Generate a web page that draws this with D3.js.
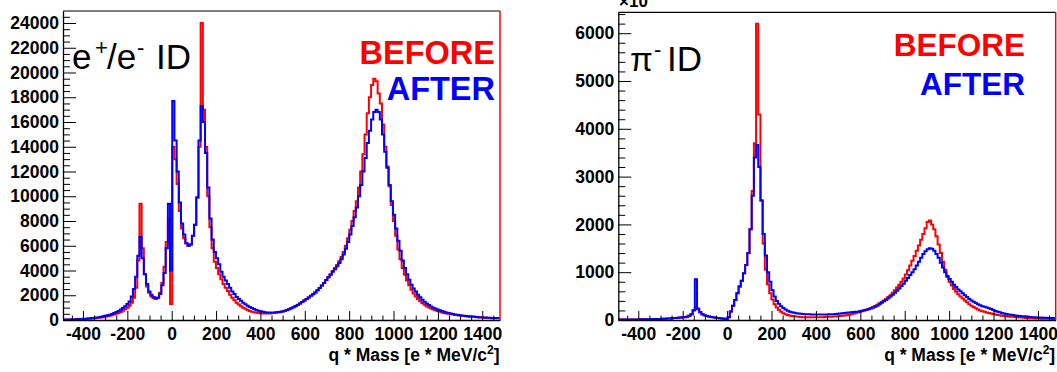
<!DOCTYPE html>
<html><head><meta charset="utf-8">
<script src="https://cdn.jsdelivr.net/npm/d3@7"></script>
<style>body{margin:0;background:#fff}svg{display:block}text{font-family:"Liberation Sans",Arial,sans-serif}</style>
</head><body><svg id="c" width="1057" height="372"></svg>
<script>
// ---------- data ----------
const binLow = -490, binWidth = 9.85;          // histogram binning (q*Mass), 200 bins
const xDomain = [-490, 1480];
const xTickValues = [-400, -200, 0, 200, 400, 600, 800, 1000, 1200, 1400];
const eYTicks = [0, 2000, 4000, 6000, 8000, 10000, 12000, 14000, 16000, 18000, 20000, 22000, 24000];
const piYTicks = [0, 1000, 2000, 3000, 4000, 5000, 6000];
const xTitle = "q * Mass [e * MeV/c";
const legendLabels = ["BEFORE", "AFTER"];

// e+/e- ID, BEFORE (red)
const eBefore = [
  30,30,40,40,50,50,60,60,70,80,
  90,100,110,120,140,160,180,200,230,260,
  300,340,390,440,500,570,650,750,870,1000,
  1150,1400,1800,2600,4800,9400,5800,3700,2700,2200,
  1900,1750,1700,1800,2200,3000,4300,6300,8200,1300,
  14000,13000,11000,8800,7400,6600,6200,6000,6100,6800,
  7700,9900,14000,24000,17000,14000,10000,7500,5800,4700,
  4200,3700,3300,2900,2600,2350,2050,1800,1600,1400,
  1250,1120,1000,900,800,720,660,620,580,560,
  540,530,520,520,530,540,560,580,600,630,
  680,730,790,860,940,1030,1120,1220,1330,1450,
  1580,1700,1820,1950,2080,2230,2400,2580,2780,3000,
  3230,3450,3700,3950,4200,4450,4750,5100,5500,6000,
  6600,7300,8000,8800,9600,10700,12000,13400,15000,16700,
  18000,19000,19500,19300,18300,17500,15800,14000,12400,10800,
  9300,8000,6800,5700,4900,4200,3650,3200,2800,2450,
  2150,1900,1700,1520,1370,1240,1120,1020,930,850,
  780,720,660,610,570,530,500,470,440,410,
  390,370,350,330,310,290,270,255,240,225,
  210,200,190,180,170,160,150,145,140,135
];
// e+/e- ID, AFTER (blue)
const eAfter = [
  40,40,50,50,60,60,70,80,90,100,
  110,120,140,160,180,200,230,260,300,340,
  380,430,490,560,640,730,840,970,1120,1300,
  1500,1900,2500,3500,5200,6700,5000,3700,2900,2300,
  2050,1850,1750,1800,2100,2800,3800,5800,9400,4000,
  17700,14500,12000,9500,7800,6900,6200,6000,6100,6800,
  7700,9900,14500,17300,16000,13500,10700,8200,6500,5500,
  5000,4500,3900,3500,3200,2900,2600,2300,2100,1850,
  1700,1550,1400,1280,1150,1050,960,880,800,740,
  700,660,630,610,600,600,610,620,640,660,
  690,740,800,870,950,1040,1130,1230,1340,1460,
  1580,1700,1820,1950,2080,2230,2400,2580,2780,3000,
  3230,3450,3650,3900,4100,4350,4600,4900,5300,5750,
  6300,6900,7600,8300,9100,10000,10900,12000,13100,14300,
  15300,16200,16800,17000,16800,16200,15000,13600,12300,10900,
  9600,8500,7400,6400,5600,4800,4200,3700,3250,2850,
  2550,2300,2050,1830,1640,1480,1340,1210,1100,1000,
  920,850,780,720,660,610,560,520,480,450,
  420,390,370,350,330,310,290,275,260,245,
  230,220,210,200,190,180,170,165,160,155
];
// pi- ID, BEFORE (red)
const piBefore = [
  10,10,10,10,10,10,10,10,10,10,
  15,15,15,15,15,20,20,20,20,20,
  25,25,30,30,35,40,40,45,50,55,
  60,70,90,120,210,260,220,160,120,100,
  85,75,65,55,45,40,35,30,25,20,
  60,180,300,420,560,700,820,980,1150,1400,
  1900,2700,3700,6200,4300,2500,1600,1050,750,560,
  430,330,260,210,170,140,120,105,95,85,
  80,75,70,65,60,58,55,55,55,55,
  55,56,58,60,62,65,68,70,72,75,
  80,85,90,95,100,110,120,130,140,155,
  170,185,200,215,230,250,270,295,320,350,
  380,410,440,480,520,570,620,680,740,800,
  870,950,1040,1140,1240,1340,1450,1560,1680,1800,
  1920,2050,2080,2000,1900,1750,1580,1400,1220,1050,
  900,800,720,650,590,540,490,450,410,370,
  330,300,270,245,220,200,185,170,155,145,
  135,125,115,105,98,90,85,80,75,70,
  66,62,58,54,50,47,44,41,38,36,
  34,32,30,28,27,26,25,24,23,22
];
// pi- ID, AFTER (blue)
const piAfter = [
  10,10,10,10,10,10,10,10,10,10,
  15,15,15,15,15,20,20,20,20,20,
  25,25,30,30,35,40,40,45,50,55,
  60,70,90,120,200,850,240,160,120,100,
  85,75,65,55,45,40,35,30,25,20,
  60,180,300,420,560,700,820,980,1150,1400,
  1900,2600,3400,3660,3200,2500,1800,1350,1000,800,
  620,490,400,340,290,250,220,195,175,160,
  150,140,135,130,125,122,120,118,116,115,
  115,115,115,115,115,115,118,120,122,125,
  130,135,140,145,150,155,160,165,170,175,
  185,195,205,215,225,240,255,275,300,330,
  360,390,420,455,490,530,570,610,660,710,
  760,820,880,940,1000,1060,1140,1220,1300,1380,
  1440,1480,1500,1490,1450,1380,1300,1200,1100,1000,
  920,860,800,740,690,640,600,560,520,480,
  440,410,380,355,330,310,290,275,260,245,
  230,210,190,175,160,148,136,125,115,108,
  102,96,90,85,80,76,72,68,64,60,
  57,54,52,50,48,46,44,42,40,38
];

// ---------- drawing ----------
const svg = d3.select("#c");
const RED = "#ff0000", BLUE = "#0000ff";
const FONT = '"Liberation Sans",Arial,sans-serif';
const fmt = d => String(d);   // plain hyphen-minus, no thousands separator

function drawPanel(o) {
  const g = svg.append("g");
  const x = d3.scaleLinear().domain(xDomain).range([o.x0, o.x1]);
  const y = d3.scaleLinear().domain([0, o.yMax]).range([o.y1, o.y0]);

  const clipId = "clip" + o.id;
  svg.append("clipPath").attr("id", clipId).append("rect")
    .attr("x", o.x0).attr("y", o.y0).attr("width", o.x1 - o.x0).attr("height", o.y1 - o.y0);

  const line = d3.line().x(d => x(d[0])).y(d => y(d[1])).curve(d3.curveStepAfter);
  function steps(vals) {
    const pts = vals.map((v, i) => [binLow + i * binWidth, v]);
    pts.push([binLow + vals.length * binWidth, vals[vals.length - 1]]);
    return pts;
  }
  [[o.before, RED], [o.after, BLUE]].forEach(([vals, col]) => {
    g.append("path").attr("d", line(steps(vals)))
      .attr("fill", "none").attr("stroke", col).attr("stroke-width", 2)
      .attr("stroke-linejoin", "miter").attr("clip-path", `url(#${clipId})`);
  });

  // x minor ticks (every 50)
  const xMinor = d3.range(-450, xDomain[1], 50).filter(v => v % 200 !== 0);
  g.append("g").attr("transform", `translate(0,${o.y1})`)
    .call(d3.axisBottom(x).tickValues(xMinor).tickSizeInner(-4.5).tickSizeOuter(0).tickFormat(""))
    .call(a => a.select(".domain").remove());
  // x major
  const xa = g.append("g").attr("transform", `translate(0,${o.y1})`)
    .call(d3.axisBottom(x).tickValues(xTickValues).tickSizeInner(-9).tickSizeOuter(0).tickPadding(8).tickFormat(fmt));
  xa.select(".domain").attr("stroke-width", 1.3);
  xa.selectAll("text").attr("font-family", FONT).attr("font-weight", "bold").attr("font-size", 17.5).attr("fill", "#000");

  // y minor
  const yMinor = d3.range(0, o.yMax, o.yMinorStep).filter(v => v % o.yMajorStep !== 0);
  g.append("g").attr("transform", `translate(${o.x0},0)`)
    .call(d3.axisLeft(y).tickValues(yMinor).tickSizeInner(-7).tickSizeOuter(0).tickFormat(""))
    .call(a => a.select(".domain").remove());
  const ya = g.append("g").attr("transform", `translate(${o.x0},0)`)
    .call(d3.axisLeft(y).tickValues(o.yTicks).tickSizeInner(-13).tickSizeOuter(0).tickPadding(4).tickFormat(fmt));
  ya.select(".domain").attr("stroke-width", 1.3);
  ya.selectAll("text").attr("font-family", FONT).attr("font-weight", "bold").attr("font-size", 17.5).attr("fill", "#000");

  // frame top + right
  g.append("line").attr("x1", o.x0).attr("x2", o.x1).attr("y1", o.y0).attr("y2", o.y0).attr("stroke", "#000").attr("stroke-width", 1.2);
  g.append("line").attr("x1", o.x1).attr("x2", o.x1).attr("y1", o.y0).attr("y2", o.y1).attr("stroke", RED).attr("stroke-width", 1.5);

  // x title
  const t = g.append("text").attr("x", o.x1 - 0.5).attr("y", 360.5).attr("text-anchor", "end")
    .attr("font-weight", "bold").attr("font-size", 17.5);
  t.append("tspan").text(xTitle);
  t.append("tspan").attr("dy", -7).attr("font-size", 12).text("2");
  t.append("tspan").attr("dy", 7).text("]");

  // legend words
  g.append("text").attr("x", o.legX).attr("y", o.legY1).attr("text-anchor", "end")
    .attr("font-weight", "bold").attr("font-size", o.legSize).attr("fill", RED).text(legendLabels[0]);
  g.append("text").attr("x", o.legX).attr("y", o.legY2).attr("text-anchor", "end")
    .attr("font-weight", "bold").attr("font-size", o.legSize).attr("fill", BLUE).text(legendLabels[1]);
  return g;
}

const gl = drawPanel({id: "L", x0: 63, x1: 500, y0: 11, y1: 320, yMax: 24970,
  yTicks: eYTicks, yMajorStep: 2000, yMinorStep: 500,
  before: eBefore, after: eAfter, legX: 495, legY1: 63.5, legY2: 100, legSize: 32.5});
const gr = drawPanel({id: "R", x0: 618.3, x1: 1055.7, y0: 12.3, y1: 320, yMax: 6437,
  yTicks: piYTicks, yMajorStep: 1000, yMinorStep: 200,
  before: piBefore, after: piAfter, legX: 1025, legY1: 56, legY2: 95, legSize: 31.5});

// panel titles
const tl = gl.append("text").attr("y", 68.5).attr("font-size", 35);
tl.append("tspan").attr("x", 72).text("e");
tl.append("tspan").attr("x", 95).attr("dy", -14).attr("font-size", 22).text("+");
tl.append("tspan").attr("x", 107).attr("dy", 14).text("/e");
tl.append("tspan").attr("x", 137).attr("dy", -14).attr("font-size", 22).text("-");
tl.append("tspan").attr("x", 156).attr("dy", 14).text("ID");

const tr = gr.append("text").attr("y", 71).attr("font-size", 35);
tr.append("tspan").attr("x", 630).attr("font-size", 33).text("π");
tr.append("tspan").attr("x", 654).attr("dy", -14).attr("font-size", 22).text("-");
tr.append("tspan").attr("x", 667).attr("dy", 14).text("ID");

// exponent label (clipped at top edge, as in the reference)
gr.append("text").attr("x", 619).attr("y", 7).attr("font-weight", "bold").attr("font-size", 17).text("×10");
</script></body></html>
